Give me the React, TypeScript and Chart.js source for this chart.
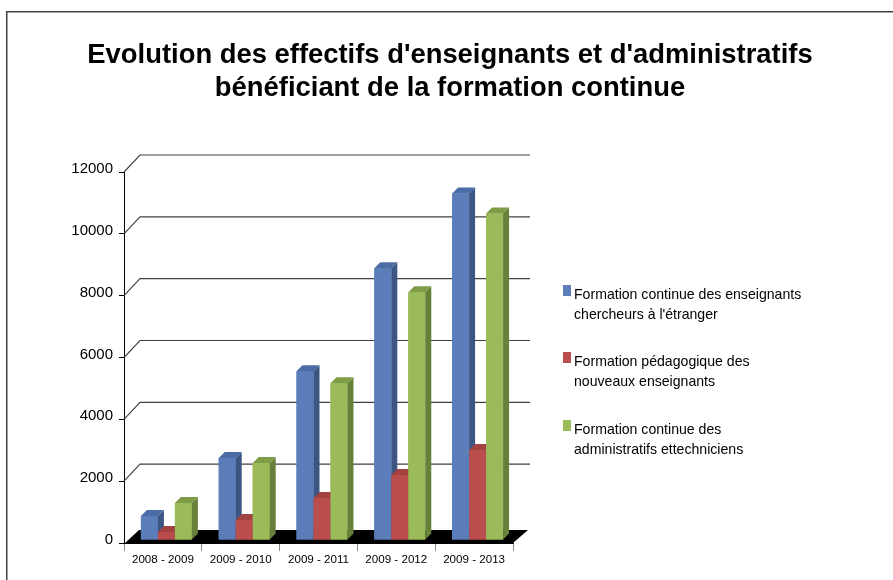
import React, { useEffect, useRef } from 'react';
import { Chart, registerables } from 'chart.js';

Chart.register(...registerables);

const FONT = "'Liberation Sans', Arial, Helvetica, sans-serif";

const titleLines = [
  "Evolution des effectifs d'enseignants et d'administratifs",
  'bénéficiant de la formation continue',
];

const categories = ['2008 - 2009', '2009 - 2010', '2009 - 2011', '2009 - 2012', '2009 - 2013'];

const seriesNames = [
  "Formation continue des enseignants chercheurs à l'étranger",
  'Formation pédagogique des nouveaux enseignants',
  'Formation continue des administratifs ettechniciens',
];

const legendLines = [
  ['Formation continue des enseignants', "chercheurs à l'étranger"],
  ['Formation pédagogique des', 'nouveaux enseignants'],
  ['Formation continue des', 'administratifs ettechniciens'],
];

const chercheursEtranger = [780, 2650, 5460, 8790, 11210];
const pedagogiqueNouveaux = [260, 650, 1360, 2100, 2910];
const administratifsTechniciens = [1200, 2490, 5070, 8010, 10560];

const yMin = 0;
const yMax = 12000;
const yStep = 2000;

const frontColors = ['#5B7DB9', '#BA4E4C', '#9BBB5A'];
const sideColors = ['#3C5583', '#8A3533', '#67803A'];
const topColors = ['#4C6CA5', '#A24341', '#7F9C47'];

const threeD = {
  id: 'threeD',
  beforeDraw(chart: any) {
    const ctx = chart.ctx;
    ctx.save();
    ctx.fillStyle = '#ffffff';
    ctx.fillRect(0, 0, chart.width, chart.height);
    ctx.strokeStyle = '#404040';
    ctx.lineWidth = 1.5;
    ctx.strokeRect(6.75, 11.75, chart.width + 20, chart.height + 20);
    ctx.restore();
  },
  beforeDatasetsDraw(chart: any) {
    const ctx = chart.ctx;
    const ys = chart.scales.y;
    const area = chart.chartArea;
    ctx.save();
    ctx.strokeStyle = '#404040';
    ctx.lineWidth = 1.1;
    ys.ticks.forEach((t: any) => {
      if (t.value <= 0) return;
      const py = ys.getPixelForValue(t.value);
      ctx.beginPath();
      ctx.moveTo(area.left, py);
      ctx.lineTo(area.left + 16, py - 17);
      ctx.lineTo(area.right + 17, py - 17);
      ctx.stroke();
    });
    const y0 = ys.getPixelForValue(0);
    ctx.fillStyle = '#000000';
    ctx.beginPath();
    ctx.moveTo(area.left + 1, y0);
    ctx.lineTo(area.right, y0);
    ctx.lineTo(area.right + 15, y0 - 13);
    ctx.lineTo(area.left + 15, y0 - 13);
    ctx.closePath();
    ctx.fill();
    ctx.restore();
    ctx.save();
    ctx.translate(3.5, -3);
  },
  afterDatasetsDraw(chart: any) {
    const ctx = chart.ctx;
    const d = 6;
    const metas = [0, 1, 2].map((i) => chart.getDatasetMeta(i));
    for (let c = 0; c < categories.length; c++) {
      for (let s = 0; s < metas.length; s++) {
        const bar = metas[s].data[c];
        if (!bar) continue;
        const { x, y, base, width } = bar.getProps(['x', 'y', 'base', 'width'], true);
        const l = x - width / 2;
        const r = x + width / 2;
        ctx.fillStyle = frontColors[s];
        ctx.fillRect(l, y, width, base - y);
        ctx.fillStyle = sideColors[s];
        ctx.beginPath();
        ctx.moveTo(r, base);
        ctx.lineTo(r, y);
        ctx.lineTo(r + d, y - d);
        ctx.lineTo(r + d, base - d);
        ctx.closePath();
        ctx.fill();
        ctx.fillStyle = topColors[s];
        ctx.beginPath();
        ctx.moveTo(l, y);
        ctx.lineTo(r, y);
        ctx.lineTo(r + d, y - d);
        ctx.lineTo(l + d, y - d);
        ctx.closePath();
        ctx.fill();
      }
    }
    ctx.restore();
  },
  afterDraw(chart: any) {
    const ctx = chart.ctx;
    ctx.save();
    ctx.fillStyle = '#000000';
    ctx.textAlign = 'center';
    ctx.textBaseline = 'alphabetic';
    ctx.font = `bold 27.4px ${FONT}`;
    ctx.fillText(titleLines[0], 450, 62.5);
    ctx.fillText(titleLines[1], 450, 95.5);

    ctx.textAlign = 'left';
    ctx.font = `14.1px ${FONT}`;
    const baseY = [299, 366, 434];
    legendLines.forEach((lines, i) => {
      ctx.fillStyle = frontColors[i];
      ctx.fillRect(563, baseY[i] - 14, 8, 11);
      ctx.fillStyle = '#000000';
      lines.forEach((line, k) => {
        ctx.fillText(line, 574, baseY[i] + k * 20);
      });
    });
    ctx.restore();
  },
};

export default function App() {
  const ref = useRef<HTMLCanvasElement | null>(null);
  useEffect(() => {
    if (!ref.current) return;
    const chart = new Chart(ref.current, {
      type: 'bar',
      data: {
        labels: categories,
        datasets: [
          { label: seriesNames[0], data: chercheursEtranger, backgroundColor: frontColors[0], borderWidth: 0 },
          { label: seriesNames[1], data: pedagogiqueNouveaux, backgroundColor: frontColors[1], borderWidth: 0 },
          { label: seriesNames[2], data: administratifsTechniciens, backgroundColor: frontColors[2], borderWidth: 0 },
        ],
      },
      options: {
        animation: false,
        responsive: true,
        maintainAspectRatio: false,
        layout: { padding: { left: 64, right: 380, top: 172, bottom: 7 } },
        datasets: { bar: { barPercentage: 1, categoryPercentage: 0.655 } },
        plugins: {
          legend: { display: false },
          title: { display: false },
          tooltip: { enabled: false },
        },
        scales: {
          x: {
            type: 'category',
            afterFit: (s: any) => { s.height = 30; },
            grid: { drawOnChartArea: false, drawTicks: true, tickLength: 8, color: '#8a8a8a', offset: true },
            border: { display: true, color: '#000000' },
            ticks: { font: { family: FONT, size: 11.6 }, color: '#000000', padding: 2, maxRotation: 0 },
          },
          y: {
            min: yMin,
            max: yMax,
            afterFit: (s: any) => { s.width = 60; },
            grid: { drawOnChartArea: false, drawTicks: true, tickLength: 5, color: '#000000' },
            border: { display: true, color: '#000000' },
            ticks: {
              stepSize: yStep,
              font: { family: FONT, size: 15 },
              color: '#000000',
              padding: 6,
              labelOffset: -3,
              callback: (v: any) => String(v),
            },
          },
        },
      },
      plugins: [threeD],
    });
    return () => chart.destroy();
  }, []);
  return (
    <div style={{ position: 'fixed', left: 0, top: 0, width: 893, height: 580 }}>
      <canvas ref={ref} />
    </div>
  );
}
